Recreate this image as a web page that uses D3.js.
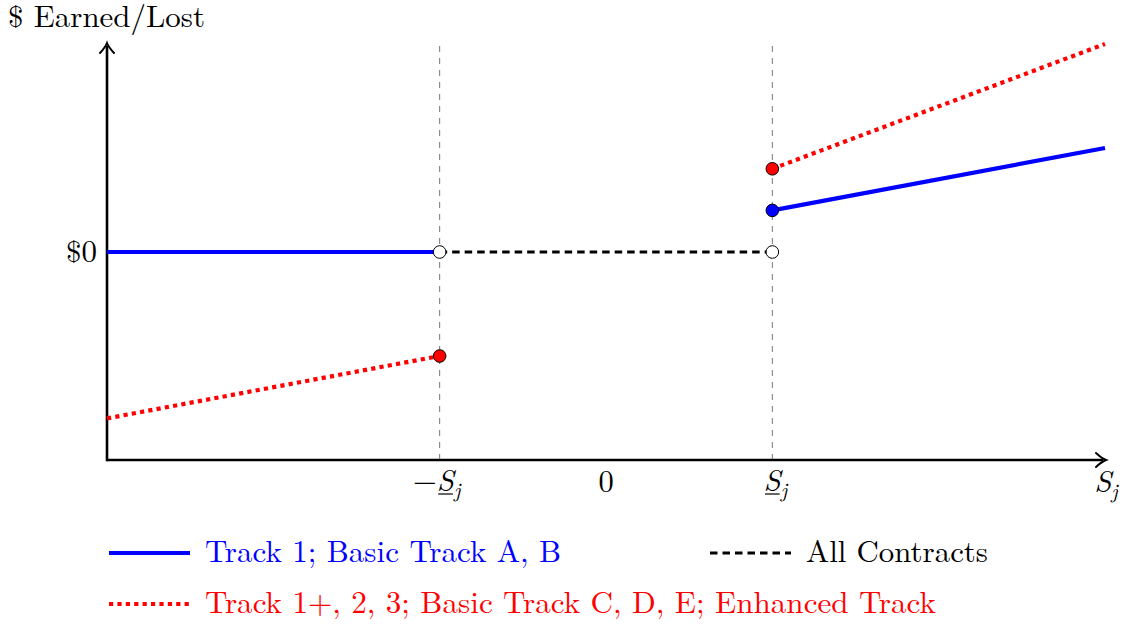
<!DOCTYPE html>
<html>
<head>
<meta charset="utf-8">
<script src="https://cdn.jsdelivr.net/npm/d3@7"></script>
<style>
  html, body { margin: 0; padding: 0; background: #fff; }
  svg { display: block; }
  text { font-family: "Latin Modern Roman", "CMU Serif", "DejaVu Serif", serif; }
</style>
</head>
<body>
<svg id="chart" width="1123" height="626"></svg>
<script>
// Payoff segments in threshold units (x) and abstract dollar units (y)
const blueFlat = [[-3, 0], [-1, 0]];
const blueRight = [[1, 2], [3, 5]];
const redLeft = [[-3, -8], [-1, -5]];
const redRight = [[1, 4], [3, 10]];
const allContracts = [[-1, 0], [1, 0]];
const openPoints = [[-1, 0], [1, 0]];
const redPoints = [[-1, -5], [1, 4]];
const bluePoints = [[1, 2]];
const thresholds = [-1, 1];
const legendItems = [
  { label: "Track 1; Basic Track A, B", color: "blue", style: "solid", width: 356 },
  { label: "Track 1+, 2, 3; Basic Track C, D, E; Enhanced Track", color: "red", style: "dotted", width: 731 },
  { label: "All Contracts", color: "black", style: "dashed", width: 182 }
];

const svg = d3.select("#chart");
const fs = 30.5;

const x = d3.scaleLinear().domain([-3, 3]).range([107, 1105]);
const y = d3.scaleLinear().domain([-10, 10]).range([460, 44]);
const line = d3.line().x(d => x(d[0])).y(d => y(d[1]));

// Vertical threshold guides
svg.selectAll("line.guide").data(thresholds).join("line")
  .attr("class", "guide")
  .attr("x1", d => x(d)).attr("x2", d => x(d))
  .attr("y1", y(-10)).attr("y2", y(10))
  .attr("stroke", "#777").attr("stroke-width", 1)
  .attr("stroke-dasharray", "6,6");

// Axes with arrow heads
svg.append("line").attr("x1", x(-3)).attr("x2", x(3) - 2)
  .attr("y1", y(-10)).attr("y2", y(-10))
  .attr("stroke", "#000").attr("stroke-width", 2.6);
svg.append("line").attr("x1", x(-3)).attr("x2", x(-3))
  .attr("y1", y(-10) + 1.3).attr("y2", y(10) + 2)
  .attr("stroke", "#000").attr("stroke-width", 2.6);
function arrow(tx, ty, angle) {
  svg.append("path")
    .attr("d", "M -9 -7 Q -3 -1.5 1 0 Q -3 1.5 -9 7")
    .attr("fill", "none").attr("stroke", "#000").attr("stroke-width", 2)
    .attr("stroke-linecap", "round")
    .attr("transform", `translate(${tx},${ty}) rotate(${angle})`);
}
arrow(x(3), y(-10), 0);
arrow(x(-3), y(10), -90);

// Series lines
const solid = { stroke: "blue", width: 4.2, dash: null };
const dotted = { stroke: "red", width: 4.2, dash: "4.2,4.2" };
const dashed = { stroke: "#000", width: 3, dash: "7.5,5" };
function drawLine(pts, s) {
  svg.append("path").datum(pts).attr("d", line)
    .attr("fill", "none").attr("stroke", s.stroke)
    .attr("stroke-width", s.width)
    .attr("stroke-dasharray", s.dash);
}
drawLine(blueFlat, solid);
drawLine(blueRight, solid);
drawLine(redLeft, dotted);
drawLine(redRight, dotted);
drawLine(allContracts, dashed);

// Endpoints
function dots(pts, fill) {
  svg.append("g").selectAll("circle").data(pts).join("circle")
    .attr("cx", d => x(d[0])).attr("cy", d => y(d[1])).attr("r", 6.3)
    .attr("fill", fill).attr("stroke", "#000").attr("stroke-width", 1);
}
dots(openPoints, "#fff");
dots(redPoints, "red");
dots(bluePoints, "blue");

// Axis labels
svg.append("text").attr("x", 8).attr("y", 27)
  .attr("font-size", fs)
  .attr("textLength", 197).attr("lengthAdjust", "spacingAndGlyphs")
  .text("$ Earned/Lost");
svg.append("text").attr("x", 66).attr("y", y(0) + 10)
  .attr("font-size", fs)
  .attr("textLength", 31).attr("lengthAdjust", "spacingAndGlyphs")
  .text("$0");

// S_j labels; the threshold ones carry a thin underline under the S
function sLabel(cx, cy, minus, underline) {
  const t = svg.append("text").attr("x", cx).attr("y", cy)
    .attr("text-anchor", "middle")
    .attr("font-size", fs);
  if (minus) t.append("tspan").text("\u2212");
  t.append("tspan").attr("font-style", "italic").text("S");
  t.append("tspan").attr("font-style", "italic").attr("font-size", 21)
    .attr("dy", 6).text("j");
  if (underline) {
    const ext = t.node().getExtentOfChar(minus ? 1 : 0);
    svg.append("line")
      .attr("x1", ext.x + 1.5).attr("x2", ext.x + ext.width - 1)
      .attr("y1", cy + 3).attr("y2", cy + 3)
      .attr("stroke", "#000").attr("stroke-width", 1.2);
  }
}
sLabel(x(-1) - 3, 491, true, true);
sLabel(x(1) + 3, 491, false, true);
sLabel(x(3) + 1, 492, false, false);
svg.append("text").attr("x", x(0)).attr("y", 492)
  .attr("text-anchor", "middle")
  .attr("font-size", fs).text("0");

// Legend
const legendPos = [[109, 553], [109, 604], [710, 553]];
legendItems.forEach((item, i) => {
  const [lx, ly] = legendPos[i];
  const s = item.style === "dashed" ? dashed : item.style === "dotted" ? dotted : solid;
  svg.append("line").attr("x1", lx).attr("x2", lx + 81)
    .attr("y1", ly).attr("y2", ly)
    .attr("stroke", item.color).attr("stroke-width", s.width)
    .attr("stroke-dasharray", s.dash);
  svg.append("text").attr("x", lx + 96).attr("y", ly + 9)
    .attr("font-size", fs)
    .attr("fill", item.color)
    .attr("textLength", item.width).attr("lengthAdjust", "spacingAndGlyphs")
    .text(item.label);
});
</script>
</body>
</html>
